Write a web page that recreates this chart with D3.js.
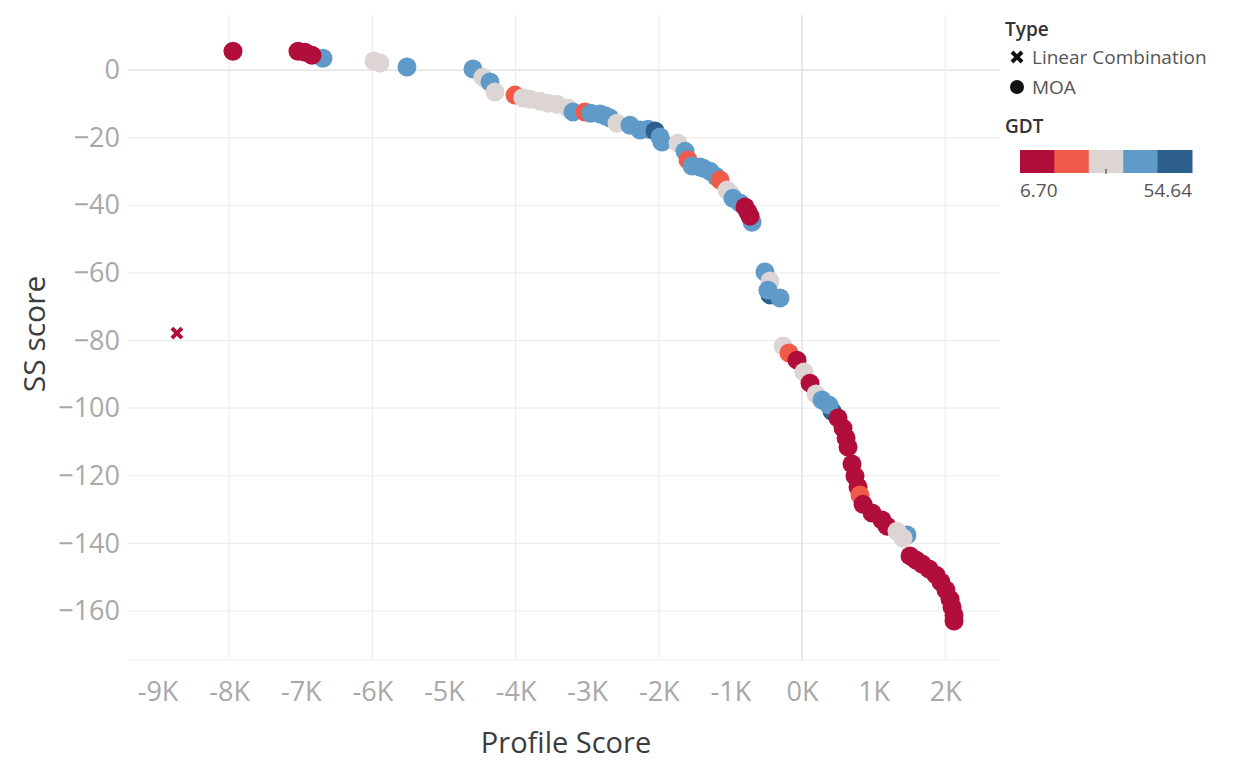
<!DOCTYPE html>
<html>
<head>
<meta charset="utf-8">
<script src="https://cdn.jsdelivr.net/npm/d3@7"></script>
<style>
  html, body { margin: 0; padding: 0; background: #fff; }
  svg { display: block; font-family: "Open Sans", sans-serif; }
</style>
</head>
<body>
<svg id="chart" width="1244" height="763"></svg>
<script>
// ---- Data ----
const moaProfile = [
  -7947, -6690, -7039, -6941, -6844, -5978, -5894, -5517,
  -4595, -4455, -4358, -4288, -4008, -3900, -3799, -3659, -3550, -3422, -3268, -3198, -3031,
  -2950, -2821, -2750, -2682, -2584, -2402, -2263, -2150, -2053, -1983, -1955, -1732, -1634, -1592,
  -1536, -1425, -1380, -1285, -1200, -1145, -1047, -1000, -964, -866, -698, -796, -726, -754,
  -447, -517, -447, -475, -307,
  -265, -182, -70, 28, 112, 196, 279, 419, 377, 503, 573, 615, 642, 698, 740,
  782, 810, 852, 978, 1117, 1187, 1466, 1327, 1411, 1508, 1592, 1676, 1774,
  1872, 1941, 2011, 2067, 2095, 2123, 2123
];
const moaSS = [
  5.6, 3.5, 5.6, 5.3, 4.4, 2.7, 2.1, 0.9,
  0.3, -2.1, -3.5, -6.5, -7.4, -8.2, -8.6, -9.2, -9.8, -10.1, -11.2, -12.4, -12.4,
  -12.8, -13.0, -13.5, -14.2, -15.7, -16.3, -17.7, -17.5, -18.0, -19.8, -21.3, -21.6, -24.0, -26.6,
  -28.4, -28.7, -29.0, -29.9, -31.5, -32.5, -35.5, -36.5, -37.9, -39.3, -45.0, -40.5, -43.2, -42.0,
  -66.5, -59.7, -62.4, -65.1, -67.4,
  -81.6, -83.7, -85.8, -89.3, -92.6, -95.8, -97.6, -100.9, -99.1, -102.9, -105.9,
  -108.8, -111.5, -116.5, -120.1, -123.3, -125.7, -128.4, -131.0, -133.1, -134.9,
  -137.5, -136.4, -138.4, -143.7, -144.9, -146.1, -147.6, -149.4, -151.4, -153.8,
  -156.5, -158.8, -161.2, -163.0
];
const moaGDT = [
  10, 40, 9, 11, 12, 30, 31, 41,
  42, 30, 43, 29, 20, 30, 31, 30, 31, 29, 32, 40, 21,
  41, 41, 40, 40, 31, 42, 40, 41, 51, 41, 42, 30, 41, 22,
  40, 42, 41, 41, 40, 21, 30, 31, 40, 44, 40, 12, 10, 11,
  50, 41, 30, 42, 40,
  30, 20, 10, 31, 9, 30, 41, 50, 40, 11, 10,
  12, 11, 10, 9, 12, 20, 10, 11, 12, 10,
  40, 30, 31, 10, 11, 9, 12, 10, 11, 10,
  9, 12, 10, 11
];
const lcProfile = [-8730];
const lcSS = [-77.8];
const lcGDT = [8];

const xTicks = [-9000, -8000, -7000, -6000, -5000, -4000, -3000, -2000, -1000, 0, 1000, 2000];
const xGrid = [-8000, -6000, -4000, -2000, 0, 2000];
const yTicks = [0, -20, -40, -60, -80, -100, -120, -140, -160];
const gdtColors = ["#b10e3c", "#ef5b48", "#dcd5d3", "#5f9ac9", "#2d5f8c"];
const gdtRange = [6.70, 54.64];
const typeLabels = ["Linear Combination", "MOA"];

// ---- Layout ----
const svg = d3.select("#chart");
const plot = { left: 128, right: 1000, top: 15, bottom: 660 };

const x = d3.scaleLinear().domain([-9413, 2765]).range([plot.left, plot.right]);
const y = d3.scaleLinear().domain([-174.5, 16.3]).range([plot.bottom, plot.top]);
const color = d3.scaleQuantize().domain(gdtRange).range(gdtColors);

// gridlines
const g = svg.append("g");
g.selectAll("line.hg").data(yTicks).join("line")
  .attr("x1", plot.left).attr("x2", plot.right)
  .attr("y1", d => y(d)).attr("y2", d => y(d))
  .attr("stroke", d => d === 0 ? "#dcdcdc" : "#eeeeee").attr("stroke-width", 1.2);
g.selectAll("line.vg").data(xGrid).join("line")
  .attr("y1", plot.top).attr("y2", plot.bottom)
  .attr("x1", d => x(d)).attr("x2", d => x(d))
  .attr("stroke", d => d === 0 ? "#dcdcdc" : "#eeeeee").attr("stroke-width", 1.2);
g.append("line").attr("x1", plot.left).attr("x2", plot.right)
  .attr("y1", plot.bottom).attr("y2", plot.bottom).attr("stroke", "#eeeeee");

// axes (d3 axis, styled)
const xAxis = svg.append("g").attr("transform", `translate(0,${plot.bottom + 8})`)
  .call(d3.axisBottom(x).tickValues(xTicks).tickSize(0).tickPadding(14)
    .tickFormat(d => (d / 1000) + "K"));
xAxis.select(".domain").remove();
xAxis.selectAll("text").attr("font-family", "Open Sans").attr("font-size", 27)
  .attr("fill", "#a8a8a8");

const yAxis = svg.append("g").attr("transform", `translate(${plot.left - 8},0)`)
  .call(d3.axisLeft(y).tickValues(yTicks).tickSize(0).tickPadding(0));
yAxis.select(".domain").remove();
yAxis.selectAll("text").attr("font-family", "Open Sans").attr("font-size", 27)
  .attr("fill", "#a8a8a8");

// axis titles
svg.append("text").attr("x", 566).attr("y", 753).attr("text-anchor", "middle")
  .attr("font-size", 29).attr("fill", "#3c3c3c").text("Profile Score");
svg.append("text").attr("transform", "translate(45,334) rotate(-90)")
  .attr("text-anchor", "middle").attr("font-size", 30).attr("fill", "#3c3c3c").text("SS score");

// MOA points
const moa = moaProfile.map((p, i) => ({ p, s: moaSS[i], g: moaGDT[i] }));
svg.append("g").selectAll("circle").data(moa).join("circle")
  .attr("cx", d => x(d.p)).attr("cy", d => y(d.s)).attr("r", 9.5)
  .attr("fill", d => color(d.g));

// Linear combination points (X marks)
const lc = lcProfile.map((p, i) => ({ p, s: lcSS[i], g: lcGDT[i] }));
const xMark = (sel, size, sw) => {
  sel.append("line").attr("x1", -size).attr("y1", -size).attr("x2", size).attr("y2", size);
  sel.append("line").attr("x1", -size).attr("y1", size).attr("x2", size).attr("y2", -size);
  sel.attr("stroke-width", sw).attr("stroke-linecap", "butt");
};
svg.append("g").selectAll("g").data(lc).join("g")
  .attr("transform", d => `translate(${x(d.p)},${y(d.s)})`)
  .attr("stroke", d => color(d.g))
  .each(function () { xMark(d3.select(this), 5, 4); });

// ---- Legend ----
const lg = svg.append("g").attr("transform", "translate(1005,0)");
lg.append("text").attr("x", 0).attr("y", 36).attr("font-size", 19).attr("font-weight", 600)
  .attr("fill", "#333").text("Type");
const lx = lg.append("g").attr("transform", "translate(12,57)").attr("stroke", "#111");
xMark(lx, 5, 4);
lg.append("circle").attr("cx", 12).attr("cy", 87).attr("r", 7).attr("fill", "#111");
lg.append("text").attr("x", 27).attr("y", 64).attr("font-size", 19).attr("fill", "#555").text(typeLabels[0]);
lg.append("text").attr("x", 27).attr("y", 94).attr("font-size", 19).attr("fill", "#555").text(typeLabels[1]);

lg.append("text").attr("x", 0).attr("y", 133).attr("font-size", 19).attr("font-weight", 600)
  .attr("fill", "#333").text("GDT");
const barX = d3.scaleBand().domain(d3.range(gdtColors.length)).range([15, 187]);
lg.selectAll("rect.sw").data(gdtColors).join("rect")
  .attr("x", (d, i) => barX(i)).attr("y", 150).attr("width", barX.bandwidth() + 0.5).attr("height", 23)
  .attr("fill", d => d);
lg.append("line").attr("x1", 101).attr("x2", 101).attr("y1", 169).attr("y2", 174).attr("stroke", "#333");
lg.append("text").attr("x", 15).attr("y", 197).attr("font-size", 19).attr("fill", "#555").text(gdtRange[0].toFixed(2));
lg.append("text").attr("x", 187).attr("y", 197).attr("text-anchor", "end").attr("font-size", 19)
  .attr("fill", "#555").text(gdtRange[1].toFixed(2));
</script>
</body>
</html>
